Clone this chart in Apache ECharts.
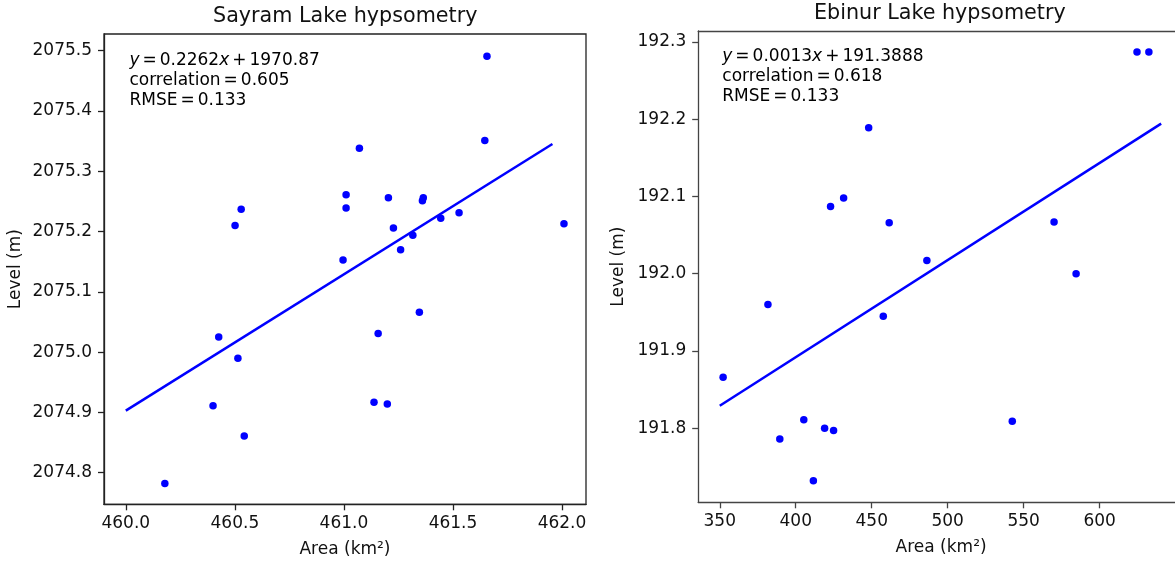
<!DOCTYPE html>
<html>
<head>
<meta charset="utf-8">
<title>Lake hypsometry</title>
<script src="https://cdn.jsdelivr.net/npm/echarts@6/dist/echarts.min.js"></script>
<style>
  html, body { margin: 0; padding: 0; background: #fff; }
  #chart { width: 1175px; height: 571px; }
</style>
</head>
<body>
<div id="chart"></div>
<script>
// ---- Sayram Lake: surface area (km²) vs water level (m) ----
const sayramArea = [461.656, 461.646, 461.071, 461.010, 461.010, 461.204, 461.364, 461.360, 460.529,
  460.501, 461.528, 461.444, 462.009, 461.227, 461.316, 461.260, 460.996, 461.346, 461.157,
  460.426, 460.514, 460.400, 461.138, 461.199, 460.543, 460.179];
const sayramLevel = [2075.491, 2075.351, 2075.338, 2075.261, 2075.239, 2075.256, 2075.256, 2075.251, 2075.237,
  2075.210, 2075.231, 2075.222, 2075.213, 2075.206, 2075.194, 2075.170, 2075.153, 2075.066, 2075.031,
  2075.025, 2074.990, 2074.911, 2074.917, 2074.914, 2074.861, 2074.782];
const sayramFit = [0.226152, 1970.873];      // slope, intercept
const sayramFitRange = [460.0, 461.956];     // x extent of the fitted line
const sayramStats = [0.605, 0.133];          // correlation, RMSE
const sayramAreaTicks = [460.0, 460.5, 461.0, 461.5, 462.0];
const sayramLevelTicks = [2074.8, 2074.9, 2075.0, 2075.1, 2075.2, 2075.3, 2075.4, 2075.5];

// ---- Ebinur Lake: surface area (km²) vs water level (m) ----
const ebinurArea = [624.6, 632.4, 448.0, 422.9, 431.5, 461.5, 570.0, 486.3, 584.5,
  381.7, 457.6, 352.2, 405.3, 542.5, 419.0, 424.9, 389.5, 411.6];
const ebinurLevel = [192.287, 192.287, 192.189, 192.087, 192.098, 192.066, 192.067, 192.017, 192.000,
  191.960, 191.945, 191.866, 191.811, 191.809, 191.800, 191.797, 191.786, 191.732];
const ebinurFit = [0.0012577, 191.3888];
const ebinurFitRange = [350, 640.5];
const ebinurStats = [0.618, 0.133];
const ebinurAreaTicks = [350, 400, 450, 500, 550, 600];
const ebinurLevelTicks = [191.8, 191.9, 192.0, 192.1, 192.2, 192.3];

const FONT = "'DejaVu Sans', sans-serif";
const BLUE = '#0000ff';

function zip(xs, ys) { return xs.map((x, i) => [x, ys[i]]); }
function fitLine(fit, range) { return range.map(x => [x, fit[0] * x + fit[1]]); }

function statsText(fit, stats, slopeDigits, interceptDigits) {
  return '{i|y}{e|=}' + fit[0].toFixed(slopeDigits) + '{i|x}{e|+}' + fit[1].toFixed(interceptDigits) +
    '\ncorrelation{e|=}' + stats[0].toFixed(3) +
    '\nRMSE{e|=}' + stats[1].toFixed(3);
}

const richStats = {
  i: { fontFamily: FONT, fontSize: 17, fontStyle: 'italic', color: '#000', lineHeight: 20 },
  e: { fontFamily: FONT, fontSize: 17, color: '#000', padding: [0, 3], lineHeight: 20 }
};

function valueAxis(gridIndex, min, max, ticks, digits, color, margin, extra) {
  return Object.assign({
    type: 'value', gridIndex, min, max, scale: true,
    axisLine: { show: true, lineStyle: { color, width: 1.3 } },
    axisTick: { show: true, inside: false, length: 6, lineStyle: { color, width: 1.3 }, customValues: ticks },
    axisLabel: {
      show: true, customValues: ticks, margin, fontFamily: FONT, fontSize: 17, color: '#111',
      formatter: v => Number(v).toFixed(digits)
    },
    splitLine: { show: false },
    nameTextStyle: { fontFamily: FONT, fontSize: 17, color: '#111' }
  }, extra);
}

const chart = echarts.init(document.getElementById('chart'), null, { renderer: 'canvas' });

chart.setOption({
  animation: false,
  backgroundColor: '#fff',
  grid: [
    { left: 104, top: 34, width: 482, height: 470.3, show: true, borderColor: '#222', borderWidth: 1.3, backgroundColor: 'transparent' },
    // the Ebinur panel runs off the right edge of the figure, so it has no right-hand frame
    { left: 698.2, top: 31, right: 0, height: 471.3, show: false }
  ],
  xAxis: [
    valueAxis(0, 459.9, 462.11, sayramAreaTicks, 1, '#222', 11, {
      position: 'bottom', name: 'Area (km²)', nameLocation: 'middle', nameGap: 37
    }),
    valueAxis(1, 335.8, 649.6, ebinurAreaTicks, 0, '#444', 11, {
      position: 'bottom', name: 'Area (km²)', nameLocation: 'middle', nameGap: 37,
      nameTextStyle: { fontFamily: FONT, fontSize: 17, color: '#111', padding: [0, 0, 0, 9] }
    }),
    {
      // top frame line of the Ebinur panel
      type: 'value', gridIndex: 1, position: 'top', min: 335.8, max: 649.6,
      axisLine: { show: true, lineStyle: { color: '#444', width: 1.3 } },
      axisTick: { show: false }, axisLabel: { show: false }, splitLine: { show: false }
    }
  ],
  yAxis: [
    valueAxis(0, 2074.7476, 2075.5277, sayramLevelTicks, 1, '#222', 12, {
      position: 'left', name: 'Level (m)', nameLocation: 'middle', nameGap: 80
    }),
    valueAxis(1, 191.7041, 192.3142, ebinurLevelTicks, 1, '#444', 12, {
      position: 'left', name: 'Level (m)', nameLocation: 'middle', nameGap: 71
    })
  ],
  series: [
    {
      type: 'line', xAxisIndex: 0, yAxisIndex: 0, data: fitLine(sayramFit, sayramFitRange),
      showSymbol: false, silent: true, lineStyle: { color: BLUE, width: 2.5 }, z: 2
    },
    {
      type: 'scatter', xAxisIndex: 0, yAxisIndex: 0, data: zip(sayramArea, sayramLevel),
      symbol: 'circle', symbolSize: 7.5, itemStyle: { color: BLUE, opacity: 1 }, silent: true, z: 3
    },
    {
      type: 'line', xAxisIndex: 1, yAxisIndex: 1, data: fitLine(ebinurFit, ebinurFitRange),
      showSymbol: false, silent: true, lineStyle: { color: BLUE, width: 2.5 }, z: 2
    },
    {
      type: 'scatter', xAxisIndex: 1, yAxisIndex: 1, data: zip(ebinurArea, ebinurLevel),
      symbol: 'circle', symbolSize: 7.5, itemStyle: { color: BLUE, opacity: 1 }, silent: true, z: 3
    }
  ],
  graphic: [
    {
      type: 'text', z: 10, x: 345.2, y: 16.7,
      style: { text: 'Sayram Lake hypsometry', fontFamily: FONT, fontSize: 20.7, fill: '#111', align: 'center', verticalAlign: 'middle' }
    },
    {
      type: 'text', z: 10, x: 939.8, y: 13.3,
      style: { text: 'Ebinur Lake hypsometry', fontFamily: FONT, fontSize: 20.7, fill: '#111', align: 'center', verticalAlign: 'middle' }
    },
    {
      type: 'text', z: 10, x: 129.4, y: 51,
      style: {
        text: statsText(sayramFit, sayramStats, 4, 2), fontFamily: FONT, fontSize: 17, fill: '#000',
        lineHeight: 20, align: 'left', verticalAlign: 'top', rich: richStats
      }
    },
    {
      type: 'text', z: 10, x: 722.3, y: 46.5,
      style: {
        text: statsText(ebinurFit, ebinurStats, 4, 4), fontFamily: FONT, fontSize: 17, fill: '#000',
        lineHeight: 20, align: 'left', verticalAlign: 'top', rich: richStats
      }
    }
  ]
});
</script>
</body>
</html>
